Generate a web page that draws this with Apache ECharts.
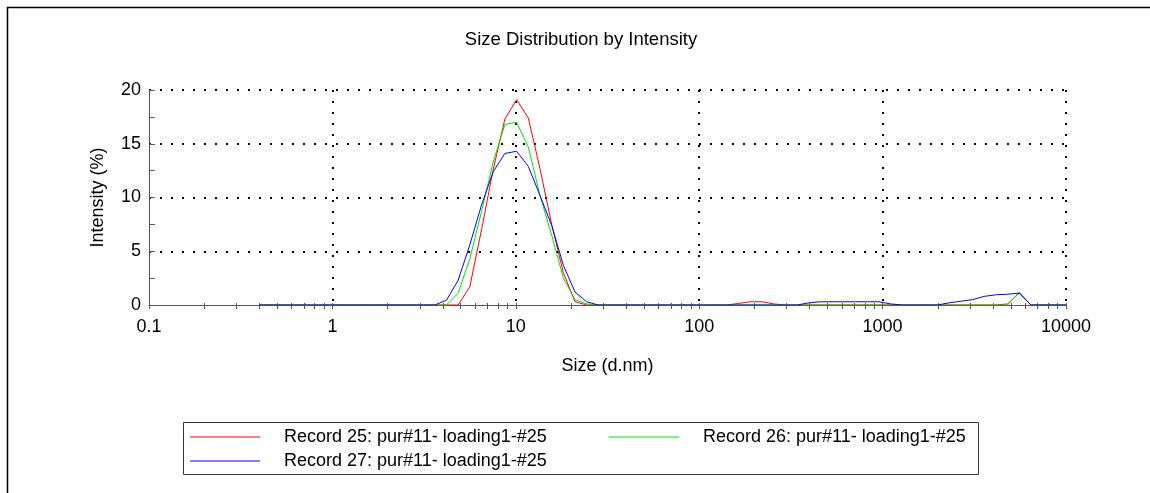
<!DOCTYPE html>
<html>
<head>
<meta charset="utf-8">
<script src="https://cdn.jsdelivr.net/npm/echarts@6/dist/echarts.min.js"></script>
<style>
  html, body { margin: 0; padding: 0; background: #fff; }
  #chart { width: 1150px; height: 493px; }
</style>
</head>
<body>
<div id="chart"></div>
<script>
// Size bins (d.nm), log spaced from 0.4 to 10000
const sizes = [
  0.4, 0.4632, 0.5365, 0.6213, 0.7195, 0.8332, 0.9649, 1.117, 1.294, 1.499,
  1.736, 2.010, 2.328, 2.696, 3.122, 3.615, 4.187, 4.849, 5.615, 6.503,
  7.531, 8.721, 10.10, 11.70, 13.54, 15.69, 18.17, 21.04, 24.36, 28.21,
  32.67, 37.84, 43.82, 50.75, 58.77, 68.06, 78.82, 91.28, 105.7, 122.4,
  141.8, 164.2, 190.1, 220.2, 255.0, 295.3, 342.0, 396.1, 458.7, 531.2,
  615.1, 712.4, 825.0, 955.4, 1106, 1281, 1484, 1718, 1990, 2305,
  2669, 3091, 3580, 4145, 4801, 5560, 6439, 7456, 8635, 10000
];

// Intensity (%) per bin
const record25 = [
  0, 0, 0, 0, 0, 0, 0, 0, 0, 0,
  0, 0, 0, 0, 0, 0, 0, 0, 1.7, 7.0,
  12.6, 17.3, 19.1, 17.4, 12.7, 7.5, 3.0, 0.3, 0, 0,
  0, 0, 0, 0, 0, 0, 0, 0, 0, 0,
  0, 0.15, 0.3, 0.3, 0.1, 0, 0, 0, 0, 0,
  0, 0, 0, 0, 0, 0, 0, 0, 0, 0,
  0, 0, 0, 0, 0.1, 1.1, 0, 0, 0, 0
];
const record26 = [
  0, 0, 0, 0, 0, 0, 0, 0, 0, 0,
  0, 0, 0, 0, 0, 0, 0, 1.1, 4.3, 8.7,
  13.3, 16.8, 17.0, 14.7, 10.2, 6.5, 2.5, 0.5, 0.1, 0,
  0, 0, 0, 0, 0, 0, 0, 0, 0, 0,
  0, 0, 0, 0, 0, 0, 0, 0, 0, 0,
  0, 0, 0, 0, 0, 0, 0, 0, 0, 0,
  0, 0, 0, 0, 0, 1.2, 0, 0, 0, 0
];
const record27 = [
  0, 0, 0, 0, 0, 0, 0, 0, 0, 0,
  0, 0, 0, 0, 0, 0, 0.45, 2.3, 5.6, 9.3,
  12.4, 14.1, 14.3, 12.9, 10.2, 7.4, 3.7, 1.2, 0.3, 0,
  0, 0, 0, 0, 0, 0, 0, 0, 0, 0,
  0, 0, 0, 0, 0, 0, 0, 0.2, 0.3, 0.3,
  0.3, 0.3, 0.3, 0.3, 0.1, 0, 0, 0, 0, 0.2,
  0.35, 0.5, 0.8, 0.95, 1.0, 1.1, 0, 0, 0, 0
];

const seriesNames = [
  'Record 25: pur#11- loading1-#25',
  'Record 26: pur#11- loading1-#25',
  'Record 27: pur#11- loading1-#25'
];
const seriesColors = ['#ff0000', '#00e000', '#0000ff'];
const xTickLabels = ['0.1', '1', '10', '100', '1000', '10000'];
const yTickLabels = ['0', '5', '10', '15', '20'];

// tick marks at 1..9 of every decade
const tickValues = [];
for (let k = -1; k <= 3; k++) {
  for (let m = 1; m <= 9; m++) tickValues.push(+(m * Math.pow(10, k)).toPrecision(6));
}
tickValues.push(10000);

const font = "'Liberation Sans', Arial, sans-serif";
const axisGrey = '#555';
const dotted = { color: '#000', width: 2, type: [2, 9] };

function pairs(values) {
  return sizes.map((s, i) => [s, values[i]]);
}

const tickAxis = (inside, len) => ({
  type: 'log', logBase: 10, min: 0.1, max: 10000, position: 'bottom',
  axisLine: { show: false, onZero: false },
  axisLabel: { show: false },
  splitLine: { show: false },
  axisTick: { show: true, inside: inside, length: len, customValues: tickValues,
              lineStyle: { color: axisGrey, width: 1 } }
});

// one legend block per record, each with its own line sample
const legendFor = (i, left, top) => ({
  data: [seriesNames[i]],
  left: left, top: top,
  icon: 'rect', itemWidth: 70, itemHeight: 1, padding: 0, selectedMode: false,
  textStyle: { fontFamily: font, fontSize: 18, color: '#000', padding: [0, 0, 0, 19] }
});

const chart = echarts.init(document.getElementById('chart'), null, { renderer: 'canvas' });
chart.setOption({
  animation: false,
  backgroundColor: '#fff',
  title: {
    text: 'Size Distribution by Intensity',
    left: 576, top: 25, textAlign: 'center',
    textStyle: { fontFamily: font, fontSize: 18.5, fontWeight: 'normal', color: '#000' }
  },
  grid: { left: 149, right: 84, top: 90, bottom: 188, containLabel: false, outerBoundsMode: 'none' },
  xAxis: [
    {
      type: 'log', logBase: 10, min: 0.1, max: 10000, position: 'bottom',
      name: 'Size (d.nm)', nameLocation: 'middle', nameGap: 52,
      nameTextStyle: { fontFamily: font, fontSize: 18, color: '#000' },
      axisLine: { show: true, onZero: false, lineStyle: { color: axisGrey, width: 1 } },
      axisTick: { show: false },
      axisLabel: {
        margin: 13, fontFamily: font, fontSize: 18, color: '#000',
        formatter: v => xTickLabels[Math.round(Math.log10(v)) + 1]
      },
      splitLine: { show: true, showMinLine: false, lineStyle: dotted }
    },
    tickAxis(false, 4),
    tickAxis(true, 2)
  ],
  yAxis: {
    type: 'value', min: 0, max: 20, interval: 5,
    name: 'Intensity (%)', nameLocation: 'middle', nameGap: 42, nameRotate: 90,
    nameTextStyle: { fontFamily: font, fontSize: 18, color: '#000' },
    axisLine: { show: true, lineStyle: { color: axisGrey, width: 1 } },
    axisTick: { show: true, inside: true, length: 6, lineStyle: { color: axisGrey } },
    minorTick: { show: true, splitNumber: 2, length: 6, lineStyle: { color: axisGrey } },
    axisLabel: {
      margin: 8, fontFamily: font, fontSize: 18, color: '#000',
      formatter: v => yTickLabels[Math.round(v / 5)]
    },
    splitLine: { show: true, showMinLine: false, lineStyle: dotted }
  },
  legend: [
    legendFor(0, 190, 428),
    legendFor(1, 609, 428),
    legendFor(2, 190, 452)
  ],
  series: [record25, record26, record27].map((vals, i) => ({
    name: seriesNames[i],
    type: 'line',
    xAxisIndex: 0,
    data: pairs(vals),
    symbol: 'none',
    showSymbol: false,
    color: seriesColors[i],
    lineStyle: { width: 1, color: seriesColors[i] },
    z: 3 + i
  })),
  graphic: [
    {
      type: 'polyline', silent: true,
      shape: { points: [[7.5, 493], [7.5, 7.5], [1150, 7.5]] },
      style: { stroke: '#000', lineWidth: 1.5, fill: null }
    },
    {
      type: 'rect', silent: true,
      shape: { x: 183.5, y: 422.5, width: 795, height: 52 },
      style: { stroke: '#333', lineWidth: 1, fill: null }
    }
  ]
});
</script>
</body>
</html>
